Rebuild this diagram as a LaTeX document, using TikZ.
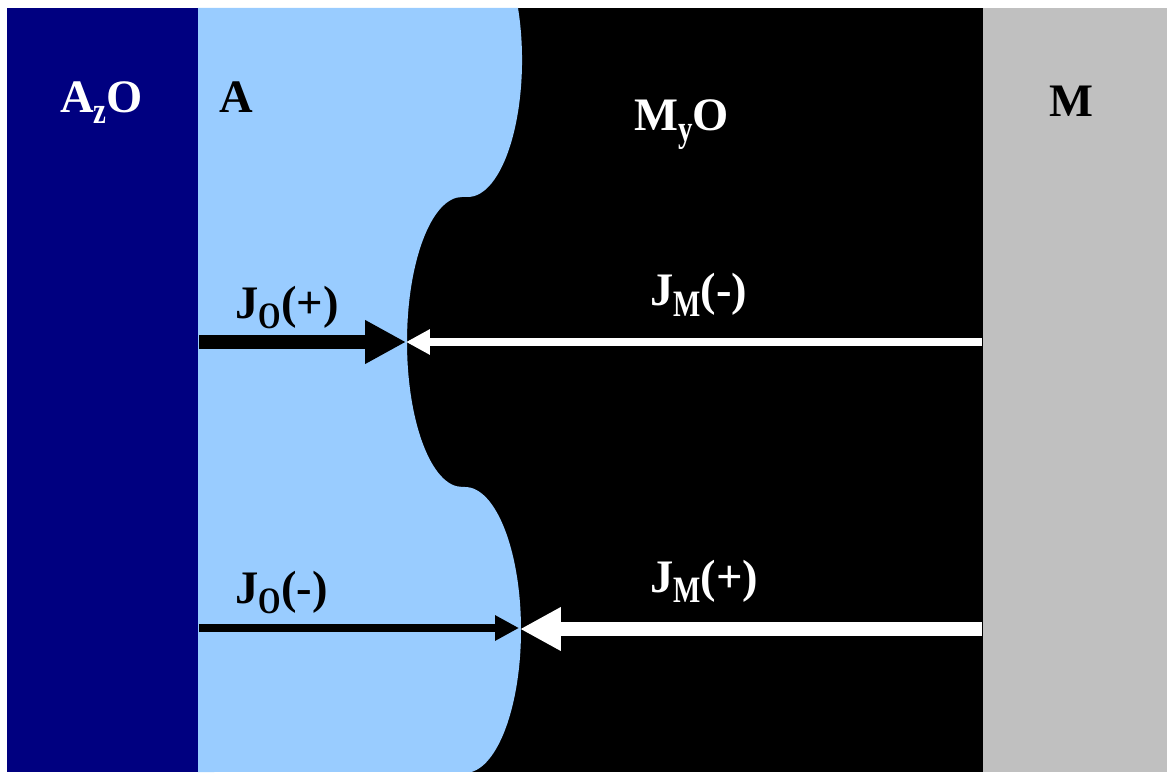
\documentclass[tikz,border=0pt]{standalone}
\usepackage{fontspec}
\setmainfont{Liberation Serif}
\usetikzlibrary{arrows.meta}
\definecolor{navyband}{HTML}{000080}
\definecolor{skyband}{HTML}{99CCFF}
\definecolor{greyband}{HTML}{C0C0C0}
\newcommand{\sbs}[1]{\raisebox{-0.22em}{\scalebox{0.62}[0.8]{#1}}}
\begin{document}
\begin{tikzpicture}[x=0.02cm,y=0.02cm,
  lab/.style={anchor=base west, inner sep=0pt, font=\fontsize{26.5}{30}\selectfont\bfseries},
  thickflux/.style={line width=0.27cm, -{Triangle[length=0.82cm,width=0.82cm]}},
  thinflux/.style={line width=0.17cm, -{Triangle[length=0.48cm,width=0.48cm]}}]
\useasboundingbox (0,0) rectangle (1167,772);
% bands
\fill[navyband] (7,0) rectangle (198,764);
\fill[black] (198,0) rectangle (983,764);
\fill[greyband] (983,0) rectangle (1167,764);
\fill[skyband] (198,0) -- (198,764) -- (518,764)
  arc[start angle=22.3, end angle=-90, x radius=1.08cm, y radius=2.74cm]
  -- (462,575)
  arc[start angle=90, end angle=270, x radius=1.1cm, y radius=2.9cm]
  -- (465,285)
  arc[start angle=90, end angle=-83.2, x radius=1.12cm, y radius=2.86cm]
  -- cycle;
% labels
\node[lab, text=white] (azo) at (60,659) {A\sbs{z}O};
\node[lab, text=black] (a) at (219,659) {A};
\node[lab, text=white] (myo) at (634,641) {M\sbs{y}O};
\node[lab, text=black] (m) at (1049,655) {M};
\node[lab, text=black] (jop) at (235,454) {J\sbs{O}(+)};
\node[lab, text=white] (jmm) at (650,466) {J\sbs{M}(-)};
\node[lab, text=black] (jom) at (235,169) {J\sbs{O}(-)};
\node[lab, text=white] (jmp) at (650,180) {J\sbs{M}(+)};
% connector ends
\coordinate (o1s) at (199,430);
\coordinate (t1) at (406,430);
\coordinate (m1s) at (982,430);
\coordinate (o2s) at (199,144);
\coordinate (t2) at (519,144);
\coordinate (m2s) at (982,143);
\coordinate (t2b) at (520,143);
% arrows
\draw[thickflux, black] (o1s) -- (t1);
\draw[thinflux, white] (m1s) -- (t1);
\draw[thinflux, black] (o2s) -- (t2);
\draw[thickflux, white] (m2s) -- (t2b);
\end{tikzpicture}
\end{document}
